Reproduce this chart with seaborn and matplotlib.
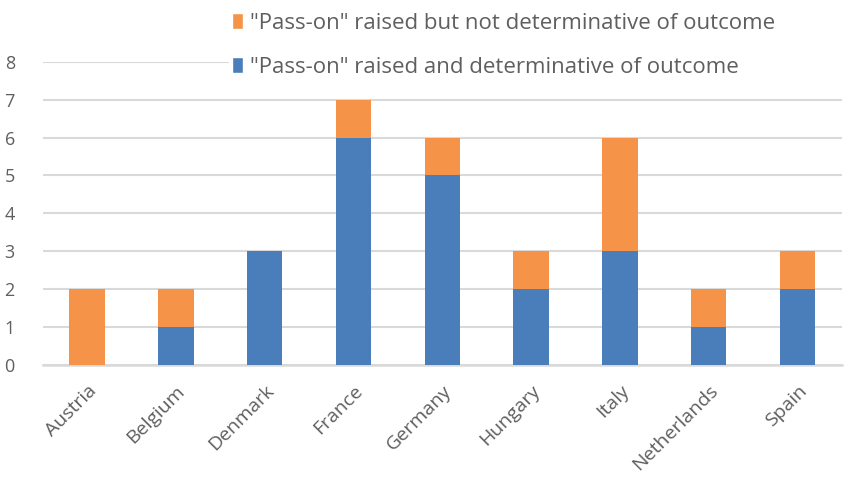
import matplotlib
matplotlib.use("Agg")
import matplotlib.pyplot as plt
import seaborn as sns
import pandas as pd
from matplotlib.patches import Patch

countries = ["Austria", "Belgium", "Denmark", "France", "Germany", "Hungary", "Italy", "Netherlands", "Spain"]
determinative = [0, 1, 3, 6, 5, 2, 3, 1, 2]
not_determinative = [2, 1, 0, 1, 1, 1, 3, 1, 1]
yticks = [0, 1, 2, 3, 4, 5, 6, 7, 8]
label_orange = '"Pass-on" raised but not determinative of outcome'
label_blue = '"Pass-on" raised and determinative of outcome'

BLUE = "#4a7ebb"
ORANGE = "#f59448"
GRID = "#d9d9d9"
TEXT = "#5f5f5f"

sns.set_theme(style="white")
plt.rcParams["font.family"] = ["Open Sans", "DejaVu Sans"]

df = pd.DataFrame({
    "country": countries,
    "blue": determinative,
    "total": [a + b for a, b in zip(determinative, not_determinative)],
})

fig = plt.figure(figsize=(8.53, 4.79), dpi=100)
ax = fig.add_axes([0.05, 0.238, 0.937, 0.633])

sns.barplot(data=df, x="country", y="total", color=ORANGE, width=0.4,
            saturation=1, ax=ax, zorder=3, linewidth=0, edgecolor="none")
sns.barplot(data=df, x="country", y="blue", color=BLUE, width=0.4,
            saturation=1, ax=ax, zorder=4, linewidth=0, edgecolor="none")

ax.set_ylim(0, 8)
ax.set_yticks(yticks)
ax.set_xlim(-0.5, len(countries) - 0.5)
ax.yaxis.grid(True, color=GRID, linewidth=1.5, zorder=0)
ax.set_axisbelow(True)
for s in ["top", "right", "left"]:
    ax.spines[s].set_visible(False)
ax.spines["bottom"].set_color(GRID)
ax.spines["bottom"].set_linewidth(1.8)
ax.set_xlabel("")
ax.set_ylabel("")
ax.tick_params(axis="y", colors=TEXT, labelsize=13, length=0, pad=20)
ax.tick_params(axis="x", colors=TEXT, labelsize=14, length=0, pad=12)
plt.setp(ax.get_xticklabels(), rotation=45, ha="right", rotation_mode="anchor")

handles = [Patch(facecolor=ORANGE, label=label_orange),
           Patch(facecolor=BLUE, label=label_blue)]
leg = fig.legend(handles=handles, loc="upper left", bbox_to_anchor=(0.268, 0.98, 0.732, 0),
                 mode="expand", frameon=True, fontsize=16, labelcolor=TEXT, handlelength=0.5,
                 handleheight=0.7, handletextpad=0.3, labelspacing=1.02,
                 borderpad=0.15, borderaxespad=0, edgecolor="white",
                 facecolor="white", framealpha=1)
leg.set_zorder(10)

fig.savefig("out.png", dpi=100)
